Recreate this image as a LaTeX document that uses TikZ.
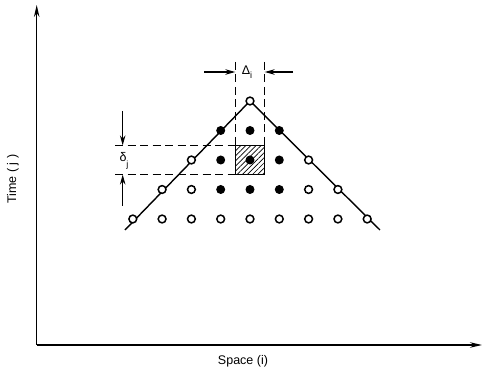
\documentclass[tikz,border=0pt]{standalone}
\usepackage{fontspec}
\setmainfont{Liberation Sans}
\usetikzlibrary{arrows.meta,patterns.meta}
\begin{document}
\begin{tikzpicture}[x=1pt,y=-1pt,
  opendot/.style={circle,draw,line width=1.5pt,fill=white,inner sep=0pt,minimum size=7.8pt},
  fulldot/.style={circle,fill=black,inner sep=0pt,minimum size=9pt},
  axis/.style={line width=1.2pt,-{Stealth[length=12pt,width=5.5pt]}},
  dimarrow/.style={line width=1.2pt,-{Stealth[length=10pt,width=5.5pt]}},
  guide/.style={line width=1.4pt,dash pattern=on 8pt off 4.5pt},
  lbl/.style={font=\fontsize{12.5}{14}\selectfont,inner sep=0pt}]
\useasboundingbox (0,0) rectangle (483,371);
% axes
\coordinate (O) at (36.7,345);
\coordinate (Ytop) at (36.7,5);
\coordinate (Xend) at (482,345);
\draw[axis] (O) -- (Ytop);
\draw[axis] (O) -- (Xend);
\node[lbl,rotate=90] (tlabel) at (13,179) {Time ( j )};
\node[lbl] (slabel) at (243,361) {Space (i)};
% triangle lines
\coordinate (L) at (125,230);
\coordinate (R) at (380,230);
\coordinate (A) at (250,101);
\draw[line width=1.4pt] (L) -- (A) -- (R);
% shaded box
\draw[line width=1.4pt,pattern={Lines[angle=45,distance=3.6pt,line width=0.7pt]}] (235.3,145.4) rectangle (264.7,174.6);
\coordinate (BTL) at (235.3,145.4);
\coordinate (BTR) at (264.7,145.4);
\coordinate (BBL) at (235.3,174.6);
% dots
\node[opendot] (a) at (A) {};
\foreach \k/\s in {-1/fulldot,0/fulldot,1/fulldot}
  \node[\s] (r2\k) at (250+\k*29.3,130.5) {};
\foreach \k/\s in {-2/opendot,-1/fulldot,0/fulldot,1/fulldot,2/opendot}
  \node[\s] (r3\k) at (250+\k*29.3,160) {};
\foreach \k/\s in {-3/opendot,-2/opendot,-1/fulldot,0/fulldot,1/fulldot,2/opendot,3/opendot}
  \node[\s] (r4\k) at (250+\k*29.3,189.5) {};
\foreach \k in {-4,...,4}
  \node[opendot] (r5\k) at (250+\k*29.3,219) {};
% dashed guides
\coordinate (DVL) at (235.3,62);
\coordinate (DVR) at (264.7,62);
\draw[guide] (DVL) -- (BTL);
\draw[guide] (DVR) -- (BTR);
\coordinate (DHT) at (115,145.4);
\coordinate (DHB) at (115,174.6);
\draw[guide] (DHT) -- (BTL);
\draw[guide] (DHB) -- (BBL);
% dimension arrows
\coordinate (HL0) at (204,72);
\coordinate (HL1) at (235.3,72);
\coordinate (HR0) at (293,72);
\coordinate (HR1) at (264.7,72);
\draw[dimarrow] (HL0) -- (HL1);
\draw[dimarrow] (HR0) -- (HR1);
\node[lbl] (delta) at (247,72) {Δ\raisebox{-3.5pt}{\small i}};
\coordinate (VT0) at (122.7,111);
\coordinate (VT1) at (122.7,145.4);
\coordinate (VB0) at (122.7,206);
\coordinate (VB1) at (122.7,174.6);
\draw[dimarrow] (VT0) -- (VT1);
\draw[dimarrow] (VB0) -- (VB1);
\node[lbl] (dlt) at (124,161) {δ\raisebox{-6pt}{\small j}};
\end{tikzpicture}
\end{document}
